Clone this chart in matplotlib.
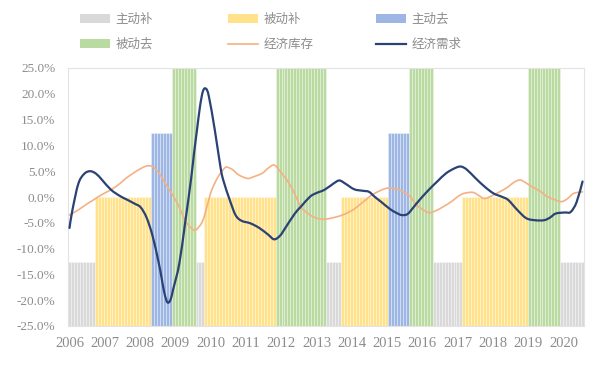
import numpy as np
import matplotlib
matplotlib.use("Agg")
import matplotlib.pyplot as plt
from matplotlib.patches import Patch, PathPatch
from matplotlib.lines import Line2D
from matplotlib.path import Path

plt.rcParams['font.family'] = ['Noto Sans CJK SC', 'DejaVu Sans']

# ---------------- data ----------------
phase_names = ['主动补', '被动补', '主动去', '被动去']
phase_levels = [-0.125, 0.0, 0.125, 0.25]
phase_colors = ['#D9D9D9', '#FFE28A', '#9DB6E4', '#B9DAA0']

# runs of (phase index, number of months), starting Jan 2006
phase_runs = [(0, 9), (1, 19), (2, 7), (3, 8), (0, 3), (1, 24), (3, 17), (0, 5),
              (1, 16), (2, 7), (3, 8), (0, 10), (1, 22), (3, 11), (0, 8)]

# 经济需求 (month index, %)
demand_x = [0, 1, 3, 5, 7, 9, 11, 14, 17, 19, 22, 24, 26, 28, 30, 31, 32, 33, 34,
            35, 37, 39, 41, 42, 43, 44, 45, 46, 47, 49, 51, 52, 54, 56, 58, 61, 64,
            67, 69, 71, 73, 76, 78, 81, 83, 86, 89, 91, 93, 96, 99, 101, 103, 105,
            108, 110, 112, 114, 116, 118, 121, 124, 127, 130, 132, 134, 137, 140,
            143, 146, 148, 151, 154, 157, 160, 162, 164, 167, 169, 171, 173]
demand_y = [-6.0, -2.5, 2.6, 4.5, 5.0, 4.5, 3.3, 1.4, 0.2, -0.4, -1.3, -2.0, -4.0,
            -7.5, -12.5, -15.5, -18.6, -20.4, -20.0, -17.8, -13.0, -5.0, 3.5, 8.5,
            13.0, 17.5, 20.5, 21.0, 19.5, 13.0, 5.5, 3.0, -0.5, -3.5, -4.6, -5.1,
            -6.0, -7.3, -8.2, -7.5, -5.8, -3.2, -1.9, 0.0, 0.7, 1.4, 2.6, 3.2, 2.6,
            1.5, 1.2, 1.0, 0.0, -0.9, -2.3, -3.0, -3.5, -3.3, -2.0, -0.6, 1.3, 3.0,
            4.6, 5.6, 5.9, 5.3, 3.6, 2.0, 0.7, 0.0, -0.6, -2.5, -4.1, -4.5, -4.5,
            -4.0, -3.2, -3.0, -2.9, -1.0, 3.0]

# 经济库存 (month index, %)
stock_x = [0, 3, 6, 8, 11, 14, 17, 19, 22, 24, 26, 28, 30, 31, 33, 36, 39, 41, 42,
           43, 45, 47, 48, 50, 52, 53, 55, 57, 60, 62, 65, 67, 69, 71, 74, 76, 78,
           80, 82, 84, 86, 89, 92, 95, 97, 100, 102, 105, 107, 109, 111, 113, 115,
           116, 118, 121, 123, 126, 129, 131, 133, 136, 138, 140, 143, 146, 148,
           150, 152, 154, 156, 159, 161, 164, 166, 168, 170, 173]
stock_y = [-3.5, -2.5, -1.3, -0.6, 0.5, 1.4, 2.6, 3.6, 4.8, 5.5, 6.0, 5.9, 4.8, 3.9,
           2.0, -0.8, -4.5, -6.0, -6.4, -6.2, -4.5, -0.5, 1.4, 3.8, 5.4, 5.8, 5.3,
           4.3, 3.6, 3.9, 4.6, 5.6, 6.2, 5.0, 2.7, 0.5, -1.9, -3.0, -3.8, -4.2,
           -4.3, -4.0, -3.5, -2.7, -1.9, -0.5, 0.4, 1.3, 1.7, 1.7, 1.4, 0.8, 0.1,
           -0.8, -2.0, -3.0, -2.8, -1.9, -0.8, 0.1, 0.7, 0.9, 0.3, -0.3, 0.4, 1.3,
           2.0, 2.9, 3.3, 2.7, 2.0, 1.0, 0.1, -0.6, -0.9, -0.3, 0.7, 1.0]

years = [str(y) for y in range(2006, 2021)]
y_ticks = [-25, -20, -15, -10, -5, 0, 5, 10, 15, 20, 25]


def smooth_path(xs, ys):
    """Excel-like smoothed line: cubic Bezier segments through the given points."""
    p = np.column_stack([xs, ys]).astype(float)
    verts = [p[0]]
    codes = [Path.MOVETO]
    n = len(p)
    for i in range(n - 1):
        p0 = p[i - 1] if i > 0 else p[i]
        p1, p2 = p[i], p[i + 1]
        p3 = p[i + 2] if i + 2 < n else p[i + 1]
        c1 = p1 + (p2 - p0) / 6.0
        c2 = p2 - (p3 - p1) / 6.0
        verts += [c1, c2, p2]
        codes += [Path.CURVE4] * 3
    return Path(verts, codes)


# ---------------- build bars ----------------
bar_phase = []
for p, n in phase_runs:
    bar_phase += [p] * n
n_months = len(bar_phase)
bar_x = np.arange(n_months)
bottom = -25.0
bar_h = [phase_levels[p] * 100 - bottom for p in bar_phase]
bar_c = [phase_colors[p] for p in bar_phase]

# ---------------- plot ----------------
fig = plt.figure(figsize=(6.09, 3.66), dpi=100)
ax = fig.add_axes([68 / 609, 1 - 326 / 366, (584 - 68) / 609, (326 - 68) / 366])

ax.bar(bar_x, bar_h, bottom=bottom, width=1.0, color=bar_c,
       edgecolor=(1, 1, 1, 0.5), linewidth=0.45, zorder=1)

stock_color = '#F4B183'
demand_color = '#2B4275'
ax.add_patch(PathPatch(smooth_path(stock_x, stock_y), facecolor='none',
                       edgecolor=stock_color, lw=1.2, zorder=3,
                       capstyle='round', joinstyle='round'))
ax.add_patch(PathPatch(smooth_path(demand_x, demand_y), facecolor='none',
                       edgecolor=demand_color, lw=1.6, zorder=4,
                       capstyle='round', joinstyle='round'))

ax.set_xlim(-0.5, n_months - 0.5)
ax.set_ylim(-25, 25)
ax.set_yticks(y_ticks)
ax.set_yticklabels([f"{v:.1f}%" for v in y_ticks], family='Liberation Serif',
                   fontsize=9.5, color='#8C8C8C')
ax.set_xticks(np.arange(len(years)) * 11.9)
ax.set_xticklabels(years, family='Liberation Serif', fontsize=10.5, color='#8C8C8C')
ax.tick_params(axis='both', length=0)
ax.tick_params(axis='y', pad=9)
ax.tick_params(axis='x', pad=8)
for s in ax.spines.values():
    s.set_color('#E3E3E3')
    s.set_linewidth(0.8)

# ---------------- legend (3 columns, row-wise) ----------------
handles = [Patch(facecolor=c, edgecolor='none') for c in phase_colors]
handles += [Line2D([], [], color=stock_color, lw=1.2),
            Line2D([], [], color=demand_color, lw=1.6)]
labels = phase_names + ['经济库存', '经济需求']
cols = [[0, 3], [1, 4], [2, 5]]
col_x = [80, 228, 376]
for cx, idxs in zip(col_x, cols):
    fig.legend([handles[i] for i in idxs], [labels[i] for i in idxs],
               loc='upper left', bbox_to_anchor=(cx / 609, 1 - 13 / 366),
               frameon=False, ncol=1, fontsize=9, handlelength=2.4,
               handleheight=0.7, handletextpad=0.45, labelspacing=0.95,
               borderpad=0, borderaxespad=0, labelcolor='#8C8C8C')

fig.savefig('out.png', dpi=100)
